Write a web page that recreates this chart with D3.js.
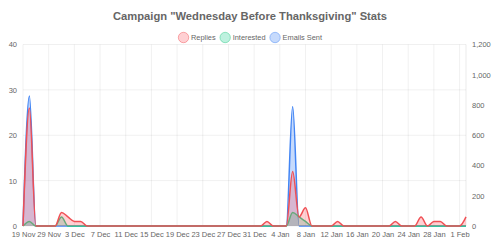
<!DOCTYPE html>
<meta charset="utf-8">
<style>
    body { margin: 0; background: #fff; }
    svg text { font-family: "Liberation Sans", Arial, sans-serif; fill: #666; }
</style>
<svg id="chart" width="500" height="250"></svg>
<script src="https://cdn.jsdelivr.net/npm/d3@7"></script>
<script>
    // one label per data point (first point is an early send, then daily)
    const days = ["19 Nov",
        "26 Nov", "27 Nov", "28 Nov", "29 Nov", "30 Nov",
        "1 Dec", "2 Dec", "3 Dec", "4 Dec", "5 Dec", "6 Dec", "7 Dec", "8 Dec", "9 Dec", "10 Dec",
        "11 Dec", "12 Dec", "13 Dec", "14 Dec", "15 Dec", "16 Dec", "17 Dec", "18 Dec", "19 Dec", "20 Dec",
        "21 Dec", "22 Dec", "23 Dec", "24 Dec", "25 Dec", "26 Dec", "27 Dec", "28 Dec", "29 Dec", "30 Dec", "31 Dec",
        "1 Jan", "2 Jan", "3 Jan", "4 Jan", "5 Jan", "6 Jan", "7 Jan", "8 Jan", "9 Jan", "10 Jan",
        "11 Jan", "12 Jan", "13 Jan", "14 Jan", "15 Jan", "16 Jan", "17 Jan", "18 Jan", "19 Jan", "20 Jan",
        "21 Jan", "22 Jan", "23 Jan", "24 Jan", "25 Jan", "26 Jan", "27 Jan", "28 Jan", "29 Jan", "30 Jan", "31 Jan",
        "1 Feb", "2 Feb"];

    const replies = [0, 26, 0, 0, 0, 0, 3, 2, 1, 1,
        0, 0, 0, 0, 0, 0, 0, 0, 0, 0,
        0, 0, 0, 0, 0, 0, 0, 0, 0, 0,
        0, 0, 0, 0, 0, 0, 0, 0, 1, 0,
        0, 0, 12, 2, 4, 0, 0, 0, 0, 1,
        0, 0, 0, 0, 0, 0, 0, 0, 1, 0,
        0, 0, 2, 0, 1, 1, 0, 0, 0, 2];

    const interested = [0, 1, 0, 0, 0, 0, 2, 0, 0, 0,
        0, 0, 0, 0, 0, 0, 0, 0, 0, 0,
        0, 0, 0, 0, 0, 0, 0, 0, 0, 0,
        0, 0, 0, 0, 0, 0, 0, 0, 0, 0,
        0, 0, 3, 2, 1, 0, 0, 0, 0, 0,
        0, 0, 0, 0, 0, 0, 0, 0, 0, 0,
        0, 0, 0, 0, 0, 0, 0, 0, 0, 0];

    const emailsSent = [0, 860, 0, 0, 0, 0, 0, 0, 0, 0,
        0, 0, 0, 0, 0, 0, 0, 0, 0, 0,
        0, 0, 0, 0, 0, 0, 0, 0, 0, 0,
        0, 0, 0, 0, 0, 0, 0, 0, 0, 0,
        0, 0, 790, 0, 0, 0, 0, 0, 0, 0,
        0, 0, 0, 0, 0, 0, 0, 0, 0, 0,
        0, 0, 0, 0, 0, 0, 0, 0, 0, 0];

    const leftTicks = [0, 10, 20, 30, 40];
    const rightTicks = [0, 200, 400, 600, 800, 1000, 1200];

    const series = [
        {name: "Emails Sent", values: emailsSent, axis: "right", line: "rgb(66,133,244)", fill: "rgba(66,133,244,0.3)"},
        {name: "Interested", values: interested, axis: "left", line: "rgb(40,200,130)", fill: "rgba(40,210,150,0.3)"},
        {name: "Replies", values: replies, axis: "left", line: "rgb(240,80,85)", fill: "rgba(255,99,110,0.3)"}
    ];

    const plotL = 23, plotR = 466, plotT = 44.5, plotB = 226;
    const svg = d3.select("#chart");

    const x = d3.scalePoint().domain(d3.range(days.length)).range([plotL, plotR]);
    const yL = d3.scaleLinear().domain([0, 40]).range([plotB, plotT]);
    const yR = d3.scaleLinear().domain([0, 1200]).range([plotB, plotT]);

    // grid
    const shown = d3.range(0, days.length, 4);
    svg.append("g").selectAll("line").data(shown).join("line")
        .attr("x1", d => x(d)).attr("x2", d => x(d))
        .attr("y1", plotT).attr("y2", plotB)
        .attr("stroke", "rgba(0,0,0,0.06)");
    svg.append("g").selectAll("line").data(leftTicks).join("line")
        .attr("x1", plotL).attr("x2", plotR)
        .attr("y1", d => yL(d)).attr("y2", d => yL(d))
        .attr("stroke", "rgba(0,0,0,0.06)");
    svg.append("line").attr("x1", plotR).attr("x2", plotR).attr("y1", plotT).attr("y2", plotB)
        .attr("stroke", "rgba(0,0,0,0.08)");

    // axes
    const axL = svg.append("g").attr("transform", `translate(${plotL},0)`)
        .call(d3.axisLeft(yL).tickValues(leftTicks).tickSize(0).tickPadding(6));
    const axR = svg.append("g").attr("transform", `translate(${plotR},0)`)
        .call(d3.axisRight(yR).tickValues(rightTicks).tickSize(0).tickPadding(6).tickFormat(d3.format(",")));
    const axB = svg.append("g").attr("transform", `translate(0,${plotB})`)
        .call(d3.axisBottom(x).tickValues(shown).tickSize(0).tickPadding(6).tickFormat(i => days[i]));
    [axL, axR, axB].forEach(g => {
        g.select(".domain").remove();
        g.selectAll("text").attr("font-size", 7.5).attr("fill", "#666");
    });

    // series
    series.forEach(s => {
        const y = s.axis === "left" ? yL : yR;
        const area = d3.area().x((d, i) => x(i)).y0(plotB).y1(d => y(d)).curve(d3.curveMonotoneX);
        const line = d3.line().x((d, i) => x(i)).y(d => y(d)).curve(d3.curveMonotoneX);
        svg.append("path").datum(s.values).attr("d", area).attr("fill", s.fill);
        svg.append("path").datum(s.values).attr("d", line)
            .attr("fill", "none").attr("stroke", s.line).attr("stroke-width", 1.5);
    });

    // title
    svg.append("text").attr("x", 250).attr("y", 20).attr("text-anchor", "middle")
        .attr("font-size", 11.2).attr("font-weight", "bold")
        .text('Campaign "Wednesday Before Thanksgiving" Stats');

    // legend
    const legendItems = series.slice().reverse();
    const lg = svg.append("g");
    let cx = 0;
    legendItems.forEach(s => {
        const g = lg.append("g").attr("transform", `translate(${cx},0)`);
        g.append("circle").attr("cx", 5.5).attr("cy", 37.5).attr("r", 5.2)
            .attr("fill", s.fill).attr("stroke", s.line).attr("stroke-opacity", 0.45).attr("stroke-width", 1);
        const t = g.append("text").attr("x", 13).attr("y", 40).attr("font-size", 7.4).text(s.name);
        cx += 13 + t.node().getComputedTextLength() + 4;
    });
    lg.attr("transform", `translate(${250 - (cx - 4) / 2},0)`);
</script>
